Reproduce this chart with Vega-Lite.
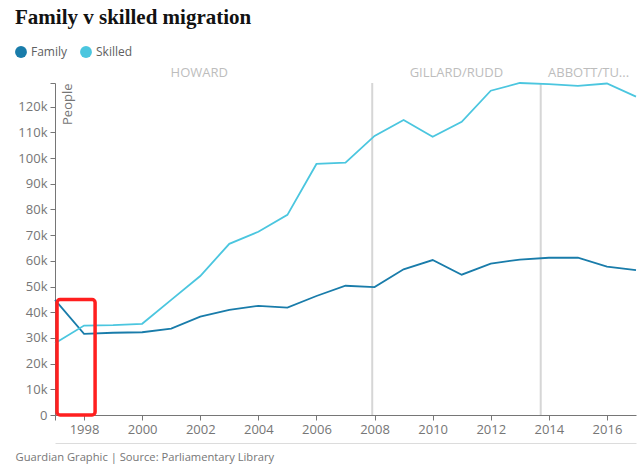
{
  "$schema": "https://vega.github.io/schema/vega-lite/v6.json",
  "width": 581,
  "height": 332,
  "autosize": "none",
  "padding": {"left": 55, "top": 83, "right": 3, "bottom": 52},
  "background": "white",
  "title": {
    "text": "Family v skilled migration",
    "anchor": "start",
    "frame": "group",
    "dx": -40,
    "dy": -14,
    "font": "Liberation Serif",
    "fontSize": 21,
    "fontWeight": "bold",
    "color": "#121212"
  },
  "datasets": {
    "migration": [
      {"year": 1997, "type": "Family", "people": 44800},
      {"year": 1998, "type": "Family", "people": 31600},
      {"year": 1999, "type": "Family", "people": 32000},
      {"year": 2000, "type": "Family", "people": 32200},
      {"year": 2001, "type": "Family", "people": 33600},
      {"year": 2002, "type": "Family", "people": 38300},
      {"year": 2003, "type": "Family", "people": 40900},
      {"year": 2004, "type": "Family", "people": 42500},
      {"year": 2005, "type": "Family", "people": 41800},
      {"year": 2006, "type": "Family", "people": 46300},
      {"year": 2007, "type": "Family", "people": 50300},
      {"year": 2008, "type": "Family", "people": 49800},
      {"year": 2009, "type": "Family", "people": 56700},
      {"year": 2010, "type": "Family", "people": 60300},
      {"year": 2011, "type": "Family", "people": 54600},
      {"year": 2012, "type": "Family", "people": 58900},
      {"year": 2013, "type": "Family", "people": 60500},
      {"year": 2014, "type": "Family", "people": 61200},
      {"year": 2015, "type": "Family", "people": 61200},
      {"year": 2016, "type": "Family", "people": 57700},
      {"year": 2017, "type": "Family", "people": 56400},
      {"year": 1997, "type": "Skilled", "people": 27900},
      {"year": 1998, "type": "Skilled", "people": 34800},
      {"year": 1999, "type": "Skilled", "people": 35000},
      {"year": 2000, "type": "Skilled", "people": 35500},
      {"year": 2001, "type": "Skilled", "people": 44800},
      {"year": 2002, "type": "Skilled", "people": 54100},
      {"year": 2003, "type": "Skilled", "people": 66600},
      {"year": 2004, "type": "Skilled", "people": 71300},
      {"year": 2005, "type": "Skilled", "people": 77900},
      {"year": 2006, "type": "Skilled", "people": 97700},
      {"year": 2007, "type": "Skilled", "people": 98200},
      {"year": 2008, "type": "Skilled", "people": 108600},
      {"year": 2009, "type": "Skilled", "people": 114800},
      {"year": 2010, "type": "Skilled", "people": 108300},
      {"year": 2011, "type": "Skilled", "people": 114100},
      {"year": 2012, "type": "Skilled", "people": 126200},
      {"year": 2013, "type": "Skilled", "people": 129200},
      {"year": 2014, "type": "Skilled", "people": 128800},
      {"year": 2015, "type": "Skilled", "people": 128100},
      {"year": 2016, "type": "Skilled", "people": 129000},
      {"year": 2017, "type": "Skilled", "people": 123900}
    ],
    "terms": [
      {"pm": "Gillard/Rudd", "year": 2007.92},
      {"pm": "Abbott/Turnbull", "year": 2013.72}
    ],
    "highlight": [
      {"from": 1997.07, "to": 1998.38, "low": 0, "high": 44900}
    ]
  },
  "config": {
    "font": "Open Sans",
    "view": {"stroke": null},
    "axis": {
      "grid": false,
      "labelColor": "#767676",
      "labelFont": "Open Sans",
      "labelFontSize": 13,
      "domainColor": "#767676",
      "tickColor": "#767676"
    }
  },
  "layer": [
    {
      "data": {"name": "terms"},
      "mark": {"type": "rule", "color": "#d6d6d6", "strokeWidth": 2},
      "encoding": {
        "x": {
          "field": "year",
          "type": "quantitative",
          "scale": {"domain": [1997, 2017], "nice": false, "zero": false},
          "axis": {
            "orient": "top",
            "values": [2001.95, 2010.8, 2015.35],
            "labelExpr": "datum.value < 2005 ? 'HOWARD' : datum.value < 2014 ? 'GILLARD/RUDD' : 'ABBOTT/TU...'",
            "domain": false,
            "ticks": false,
            "labelColor": "#bdbdbd",
            "labelFontSize": 13,
            "labelPadding": 4,
            "title": null
          }
        }
      }
    },
    {
      "data": {"name": "migration"},
      "mark": {"type": "line", "strokeWidth": 1.8},
      "encoding": {
        "x": {
          "field": "year",
          "type": "quantitative",
          "scale": {"domain": [1997, 2017], "nice": false, "zero": false},
          "axis": {
            "values": [1997, 1998, 2000, 2002, 2004, 2006, 2008, 2010, 2012, 2014, 2016],
            "format": "d",
            "labelExpr": "datum.value == 1997 ? '' : datum.label",
            "tickSize": 5,
            "labelPadding": 3,
            "title": null
          }
        },
        "y": {
          "field": "people",
          "type": "quantitative",
          "scale": {"domain": [0, 129200], "nice": false},
          "axis": {
            "values": [0, 10000, 20000, 30000, 40000, 50000, 60000, 70000, 80000, 90000, 100000, 110000, 120000, 129200],
            "labelExpr": "datum.value == 0 ? '0' : datum.value > 125000 ? '' : datum.value / 1000 + 'k'",
            "tickSize": 5,
            "labelPadding": 3,
            "title": "People",
            "titleAngle": -90,
            "titleX": 6,
            "titleY": 0,
            "titleAlign": "right",
            "titleBaseline": "top",
            "titleColor": "#767676",
            "titleFontWeight": "normal",
            "titleFontSize": 13
          }
        },
        "color": {
          "field": "type",
          "type": "nominal",
          "scale": {"domain": ["Family", "Skilled"], "range": ["#197caa", "#4bc6df"]},
          "legend": {
            "orient": "none",
            "legendX": -40,
            "legendY": -37,
            "direction": "horizontal",
            "title": null,
            "symbolType": "circle",
            "symbolSize": 140,
            "symbolStrokeWidth": 0,
            "labelFontSize": 12,
            "labelColor": "#606060",
            "columnPadding": 12,
            "encode": {
              "symbols": {
                "update": {
                  "fill": {"scale": "color", "field": "value"},
                  "stroke": {"value": "transparent"}
                }
              }
            }
          }
        }
      }
    },
    {
      "data": {"name": "highlight"},
      "mark": {"type": "rect", "filled": false, "stroke": "#ff1f1f", "strokeWidth": 3.5, "cornerRadius": 3},
      "encoding": {
        "x": {
          "field": "from",
          "type": "quantitative",
          "scale": {"domain": [1997, 2017], "nice": false, "zero": false},
          "axis": {
            "orient": "bottom",
            "offset": 28,
            "domainColor": "#dcdcdc",
            "ticks": false,
            "labels": false,
            "title": "Guardian Graphic | Source: Parliamentary Library",
            "titleAnchor": "start",
            "titleAlign": "left",
            "titleX": -40,
            "titleY": 17,
            "titleBaseline": "alphabetic",
            "titleColor": "#767676",
            "titleFontWeight": "normal",
            "titleFontSize": 11.2
          }
        },
        "x2": {"field": "to"},
        "y": {
          "field": "low",
          "type": "quantitative",
          "scale": {"domain": [0, 129200], "nice": false},
          "axis": null
        },
        "y2": {"field": "high"}
      }
    }
  ],
  "resolve": {"axis": {"x": "independent", "y": "independent"}}
}
